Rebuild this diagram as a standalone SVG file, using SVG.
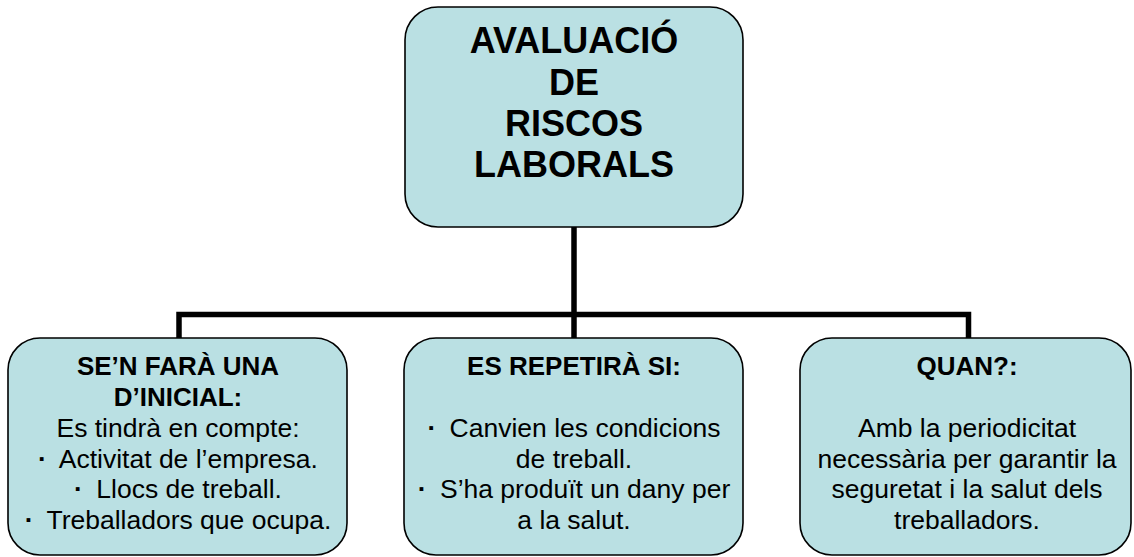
<svg xmlns="http://www.w3.org/2000/svg" width="1134" height="557" viewBox="0 0 1134 557">
<style>
.box{fill:#BAE0E3;stroke:#000;stroke-width:1.6}
.t{font-family:"Liberation Sans",Arial,sans-serif;fill:#000;text-anchor:middle}
.big{font-size:36px;font-weight:bold}
.h{font-size:26px;font-weight:bold}
.n{font-size:26.5px}
.b{font-weight:bold}
.conn{fill:none;stroke:#000;stroke-width:5.5;stroke-linejoin:miter;stroke-linecap:butt}
</style>
<rect width="1134" height="557" fill="#fff"/>
<g id="connectors">
<path class="conn" d="M179,338 V314.5 H968.5 V338"/>
<path class="conn" d="M574,227 V338"/>
</g>
<g id="node-top">
<rect class="box" x="405" y="7" width="338" height="220" rx="33" ry="33"/>
<text class="t big" x="574" y="53">AVALUACIÓ</text>
<text class="t big" x="574" y="95">DE</text>
<text class="t big" x="574" y="136">RISCOS</text>
<text class="t big" x="574" y="177">LABORALS</text>
</g>
<g id="node-inicial">
<rect class="box" x="8" y="338" width="339" height="217" rx="32" ry="32"/>
<text class="t h" x="178" y="375">SE’N FARÀ UNA</text>
<text class="t h" x="178" y="406">D’INICIAL:</text>
<text class="t n" x="178" y="437">Es tindrà en compte:</text>
<text class="t n" x="178" y="468"><tspan class="b">·</tspan><tspan dx="6"> Activitat de l’empresa.</tspan></text>
<text class="t n" x="178" y="498"><tspan class="b">·</tspan><tspan dx="6"> Llocs de treball.</tspan></text>
<text class="t n" x="178" y="529"><tspan class="b">·</tspan><tspan dx="6"> Treballadors que ocupa.</tspan></text>
</g>
<g id="node-repetira">
<rect class="box" x="404" y="338" width="339" height="217" rx="32" ry="32"/>
<text class="t h" x="574" y="375">ES REPETIRÀ SI:</text>
<text class="t n" x="574" y="437"><tspan class="b">·</tspan><tspan dx="6"> Canvien les condicions</tspan></text>
<text class="t n" x="574" y="468">de treball.</text>
<text class="t n" x="574" y="498"><tspan class="b">·</tspan><tspan dx="6"> S’ha produït un dany per</tspan></text>
<text class="t n" x="574" y="529">a la salut.</text>
</g>
<g id="node-quan">
<rect class="box" x="800" y="338" width="331" height="217" rx="32" ry="32"/>
<text class="t h" x="967" y="375">QUAN?:</text>
<text class="t n" x="967" y="437">Amb la periodicitat</text>
<text class="t n" x="967" y="468">necessària per garantir la</text>
<text class="t n" x="967" y="498">seguretat i la salut dels</text>
<text class="t n" x="967" y="529">treballadors.</text>
</g>
</svg>
